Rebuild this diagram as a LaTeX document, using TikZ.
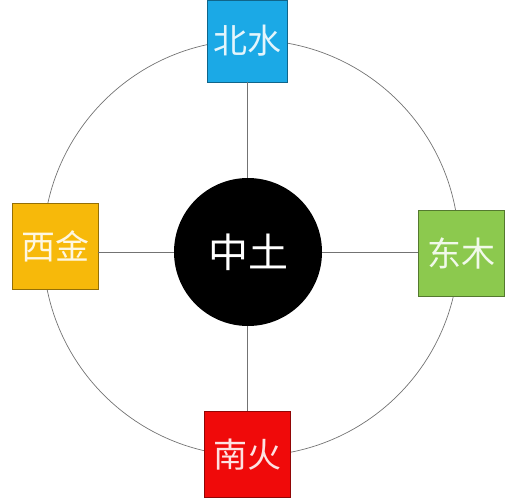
\documentclass[tikz,border=0pt]{standalone}
\usepackage{fontspec}
\newfontfamily\cjk{Noto Sans CJK SC}
\definecolor{shui}{HTML}{1BA9E6}
\definecolor{jin}{HTML}{F7B90A}
\definecolor{mu}{HTML}{8CC94E}
\definecolor{huo}{HTML}{F00A0A}

\begin{document}
\begin{tikzpicture}[
        x = 1pt, y = -1pt,
        box/.style = {
            draw = #1!60!black,
            fill = #1,
            text = white!88!#1,
            line width = 0.6pt,
            minimum width = 86pt,
            minimum height = 86pt,
            inner sep = 0pt,
            font = \cjk\fontsize{34}{34}\selectfont
        },
        link/.style = {
            draw = black!55,
            line width = 0.7pt
        }
        ]
%
        \useasboundingbox (0,0) rectangle (516,500);
%
        \draw[link] (251,248) circle (208);
%
        \node[circle, fill=black, minimum size=148pt, inner sep=0pt, text=white,
              font=\cjk\fontsize{40}{40}\selectfont] (zhong) at (248,252) {中土};
%
        \node[box=shui, minimum width=80pt, minimum height=82pt] (bei) at (247,41) {北水};
        \node[box=jin] (xi) at (55,246) {西金};
        \node[box=mu] (dong) at (461,253) {东木};
        \node[box=huo] (nan) at (247,454.5) {南火};
%
        \draw[link] (bei.south) -- (zhong.north -| bei.south);
        \draw[link] (nan.north) -- (zhong.south -| nan.north);
        \draw[link] (xi.east |- zhong.west) -- (zhong.west);
        \draw[link] (zhong.east) -- (dong.west |- zhong.east);
%
\end{tikzpicture}
\end{document}
